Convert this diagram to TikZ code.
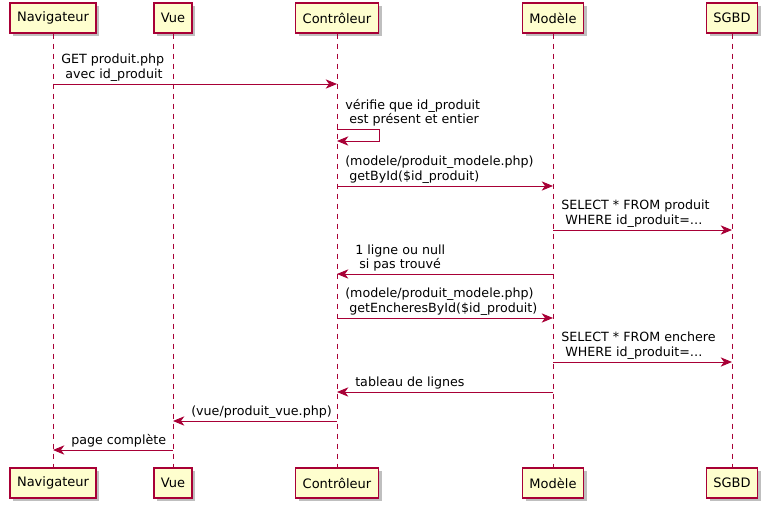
\documentclass[tikz,border=0pt]{standalone}
\usepackage{fontspec}
\setmainfont{DejaVu Sans}
\usetikzlibrary{arrows.meta,shadows}
\definecolor{umlred}{HTML}{A80036}
\definecolor{umlfill}{HTML}{FEFECE}
\begin{document}
\begin{tikzpicture}[x=0.75pt, y=-0.75pt]
    % Define styles
    \tikzset{
        actor/.style={rectangle, draw=umlred, fill=umlfill, line width=1.1pt, minimum height=22.5pt, inner xsep=5.25pt,
            font=\fontsize{9.75}{12}\selectfont, drop shadow={shadow xshift=2.5pt, shadow yshift=-2.5pt, fill=black, opacity=0.25}},
        lifeline/.style={draw=umlred, line width=0.75pt, dash pattern=on 3.75pt off 3.75pt},
        msg/.style={draw=umlred, line width=0.75pt, -{Stealth[length=8.5pt, width=7pt, inset=2.5pt]}},
        lbl/.style={anchor=south west, inner sep=0pt, align=left, font=\fontsize{9.5}{10.8}\selectfont},
    }
    \useasboundingbox (0,0) rectangle (768,507);

    % Participants
    \node[actor] (navT) at (53,18) {Navigateur};
    \node[actor] (vueT) at (173,18) {Vue};
    \node[actor] (ctrlT) at (337,18) {Contrôleur};
    \node[actor] (modT) at (553,18) {Modèle};
    \node[actor] (sgbdT) at (732,18) {SGBD};

    \node[actor] (navB) at (53,483) {Navigateur};
    \node[actor] (vueB) at (173,483) {Vue};
    \node[actor] (ctrlB) at (337,483) {Contrôleur};
    \node[actor] (modB) at (553,483) {Modèle};
    \node[actor] (sgbdB) at (732,483) {SGBD};

    % Lifelines
    \draw[lifeline] (navT.south) -- (navB.north);
    \draw[lifeline] (vueT.south) -- (vueB.north);
    \draw[lifeline] (ctrlT.south) -- (ctrlB.north);
    \draw[lifeline] (modT.south) -- (modB.north);
    \draw[lifeline] (sgbdT.south) -- (sgbdB.north);

    % Messages
    \node[lbl] (m1) at (61,81.5) {GET produit.php\\\ avec id\_produit};
    \draw[msg] (navT |- 0,84) -- (ctrlT |- 0,84);

    \node[lbl] (m2) at (345,126.5) {vérifie que id\_produit\\\ est présent et entier};
    \draw[msg] (ctrlT |- 0,129) -- ++(42,0) -- ++(0,12) -- (ctrlT |- 0,141);

    \node[lbl] (m3) at (345,183.5) {(modele/produit\_modele.php)\\\ getById(\$id\_produit)};
    \draw[msg] (ctrlT |- 0,186) -- (modT |- 0,186);

    \node[lbl] (m4) at (561,227.5) {SELECT * FROM produit\\\ WHERE id\_produit=…};
    \draw[msg] (modT |- 0,230) -- (sgbdT |- 0,230);

    \node[lbl] (m5) at (355,271.5) {1 ligne ou null\\\ si pas trouvé};
    \draw[msg] (modT |- 0,274) -- (ctrlT |- 0,274);

    \node[lbl] (m6) at (345,315.5) {(modele/produit\_modele.php)\\\ getEncheresById(\$id\_produit)};
    \draw[msg] (ctrlT |- 0,318) -- (modT |- 0,318);

    \node[lbl] (m7) at (561,359.5) {SELECT * FROM enchere\\\ WHERE id\_produit=…};
    \draw[msg] (modT |- 0,362) -- (sgbdT |- 0,362);

    \node[lbl] (m8) at (355,389.5) {tableau de lignes};
    \draw[msg] (modT |- 0,392) -- (ctrlT |- 0,392);

    \node[lbl] (m9) at (191,418.5) {(vue/produit\_vue.php)};
    \draw[msg] (ctrlT |- 0,421) -- (vueT |- 0,421);

    \node[lbl] (m10) at (71,447.5) {page complète};
    \draw[msg] (vueT |- 0,450) -- (navT |- 0,450);
\end{tikzpicture}
\end{document}
